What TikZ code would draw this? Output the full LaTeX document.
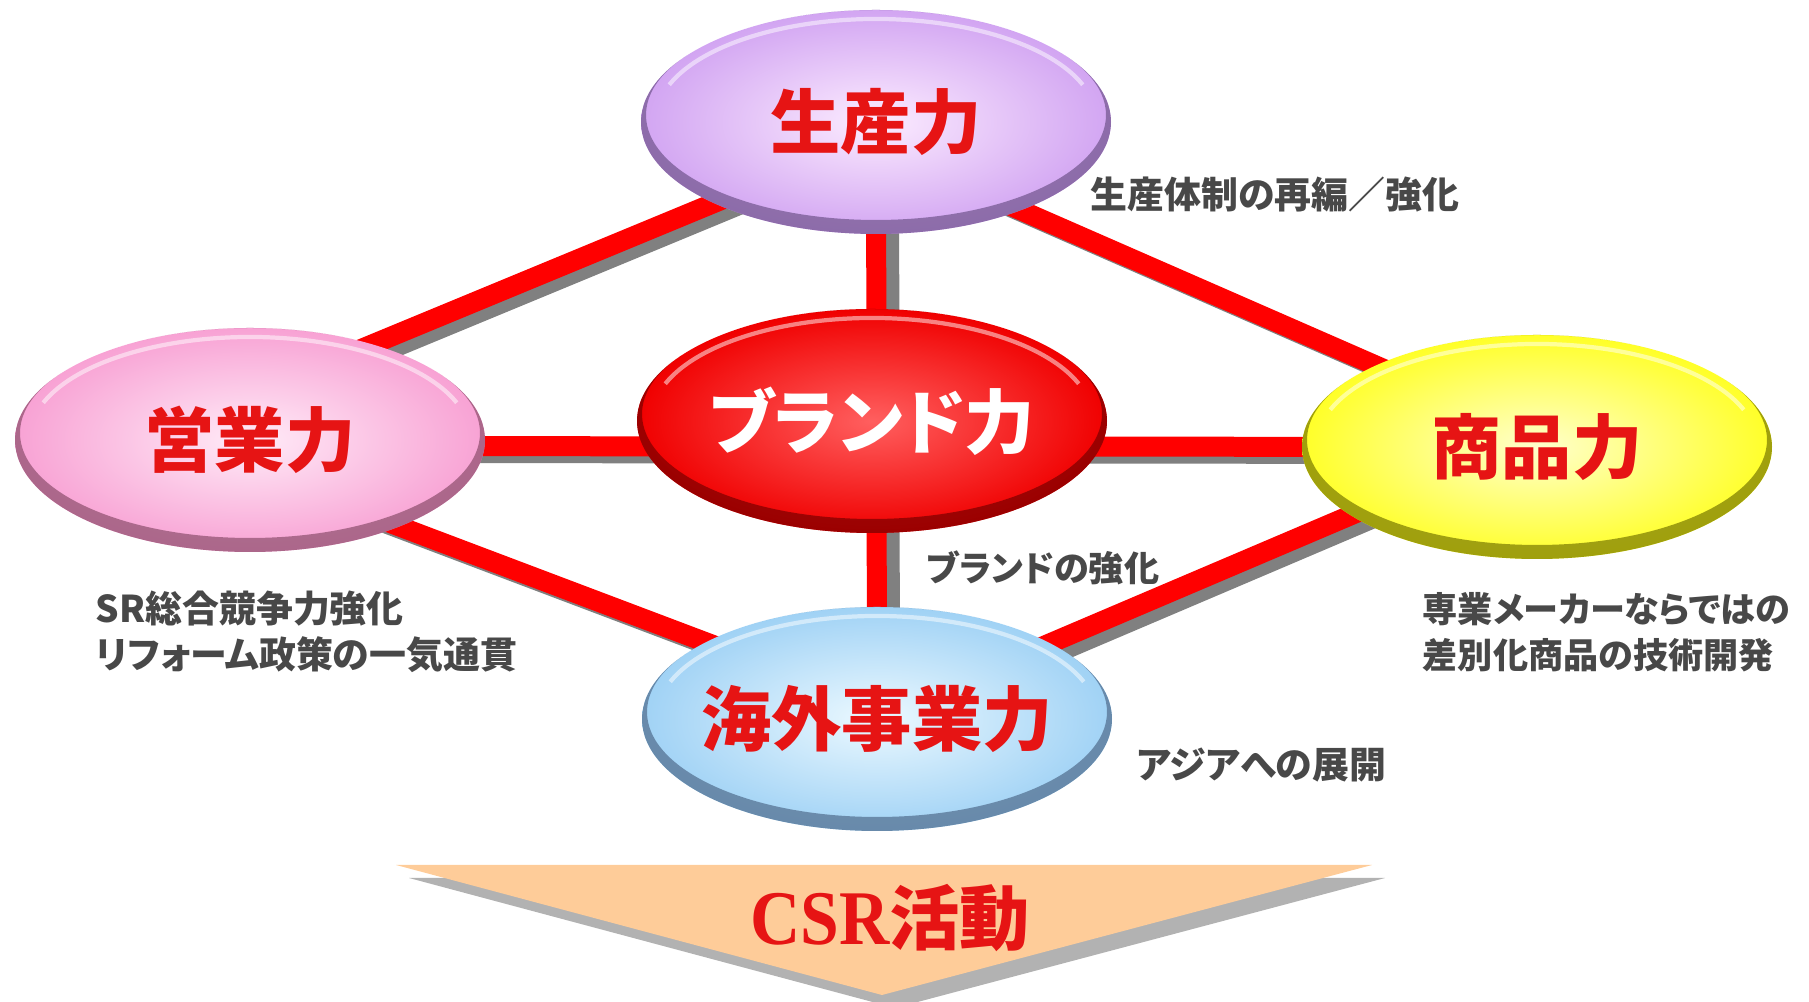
\documentclass[tikz,border=0pt]{standalone}
\usepackage{fontspec}
\newfontfamily\jp{Noto Sans CJK JP}[RawFeature=+palt]
\newfontfamily\serifrm{Liberation Serif}
\usepackage{tikz}
\usetikzlibrary{calc,positioning,shapes,backgrounds}

\definecolor{txtred}{RGB}{230,20,20}
\definecolor{txtgray}{RGB}{72,72,72}
\definecolor{linered}{RGB}{255,0,0}
\definecolor{lineshade}{RGB}{128,128,128}
\definecolor{arrowfill}{RGB}{254,204,153}
\definecolor{arrowshade}{RGB}{178,178,178}
\definecolor{prodA}{RGB}{252,236,255}
\definecolor{prodB}{RGB}{210,165,242}
\definecolor{prodD}{RGB}{112,84,140}
\definecolor{brandA}{RGB}{255,95,95}
\definecolor{brandB}{RGB}{240,0,0}
\definecolor{brandD}{RGB}{120,0,0}
\definecolor{salesA}{RGB}{255,236,248}
\definecolor{salesB}{RGB}{248,162,212}
\definecolor{salesD}{RGB}{140,78,108}
\definecolor{goodsA}{RGB}{255,255,205}
\definecolor{goodsB}{RGB}{255,255,40}
\definecolor{goodsD}{RGB}{120,120,0}
\definecolor{overA}{RGB}{236,249,255}
\definecolor{overB}{RGB}{160,210,245}
\definecolor{overD}{RGB}{80,108,140}

\begin{document}
\begin{tikzpicture}[ball/.style={ellipse, minimum width=4.7cm, minimum height=2.24cm, inner xsep=-0.6cm, inner ysep=0pt,
  shading=radial, inner color=#1A, outer color=#1B, text=txtred, font=\jp\bfseries\fontsize{20}{20}\selectfont,
  path picture={
    \coordinate (pc) at (path picture bounding box.center);
    \fill[#1D, opacity=.7, even odd rule] (pc) ellipse [x radius=2.4cm, y radius=1.2cm] ([yshift=0.07cm]pc) ellipse [x radius=2.3cm, y radius=1.05cm];
    \draw[white, opacity=.5, line width=1.2pt] ([yshift=0.03cm]pc) ++(160:2.2cm and 1.0cm) arc [start angle=160, end angle=20, x radius=2.2cm, y radius=1.0cm];}}]
\tikzstyle{note}=[font=\jp\bfseries\fontsize{10.5}{13}\selectfont, text=txtgray, align=left, anchor=west, inner sep=0pt]
\tikzstyle{smallnote}=[note, font=\jp\bfseries\fontsize{10}{13}\selectfont]
\useasboundingbox (0,0) rectangle (18.09,10.02);

% the five forces
\node[ball=prod] (prod) at (8.76,8.80) {生産力};
\node[ball=brand, text=white] (brand) at (8.72,5.81) {ブランド力};
\node[ball=sales] (sales) at (2.50,5.62) {営業力};
\node[ball=goods] (goods) at (15.37,5.55) {商品力};
\node[ball=over] (over) at (8.77,2.83) {海外事業力};

% links, grey shadow first
\begin{scope}[on background layer]
\foreach \col/\dx/\dy in {lineshade/0.13/-0.07, linered/0/0}{
\foreach \i/\a/\j/\b in {sales/0.45/prod/-0.14, prod/-0.25/goods/0.11, sales/-0.30/over/0.12, goods/0.11/over/0.02, sales/-0.06/goods/0, prod/0/over/0}{\draw[\col, line width=0.2cm] ([shift={(\dx,\a+\dy)}]\i.center) -- ([shift={(\dx,\b+\dy)}]\j.center);}}
\end{scope}

% notes
\node[note] (n1) at (10.90,8.07) {生産体制の再編／強化};
\node[smallnote] (n2) at (9.26,4.34) {ブランドの強化};
\node[note] (n3) at (0.95,3.70) {SR総合競争力強化\\リフォーム政策の一気通貫};
\node[smallnote] (n4) at (14.22,3.70) {専業メーカーならではの\\差別化商品の技術開発};
\node[note] (n5) at (11.36,2.37) {アジアへの展開};

% CSR arrow
\fill[arrowshade] (4.09,1.24) -- (13.85,1.24) -- (8.95,-0.06) -- cycle;
\fill[arrowfill] (3.96,1.37) -- (13.72,1.37) -- (8.82,0.07) -- cycle;
\node[text=txtred] (csr) at (8.90,0.84) {\scalebox{0.9}[1]{\serifrm\bfseries\fontsize{22}{22}\selectfont CSR}\jp\bfseries\fontsize{20}{20}\selectfont 活動};
\end{tikzpicture}
\end{document}
